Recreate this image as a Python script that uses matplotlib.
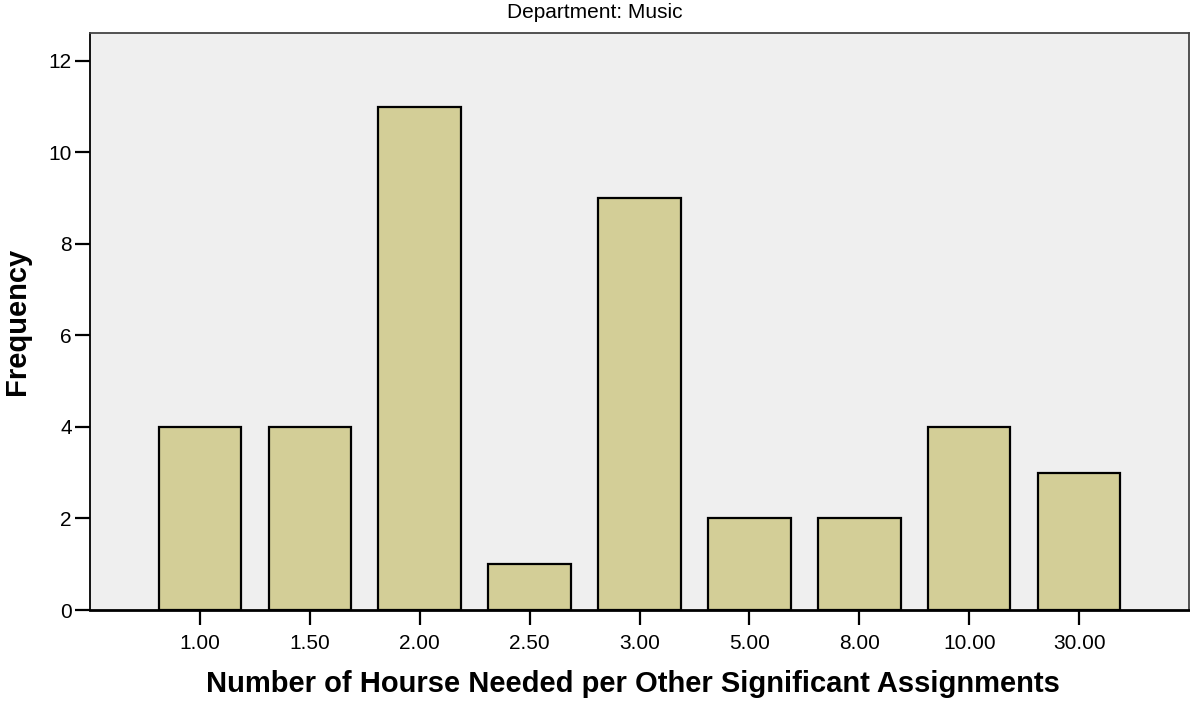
import numpy as np
import matplotlib
matplotlib.use('Agg')
import matplotlib.pyplot as plt

# datos del grafico
categorias = ['1.00', '1.50', '2.00', '2.50', '3.00', '5.00', '8.00', '10.00', '30.00']
frecuencias = [4, 4, 11, 1, 9, 2, 2, 4, 3]
y_ticks = [0, 2, 4, 6, 8, 10, 12]

titulo = 'Department: Music'
x_label = 'Number of Hourse Needed per Other Significant Assignments'
y_label = 'Frequency'

plt.rcParams['font.family'] = ['Liberation Sans', 'DejaVu Sans']

fig = plt.figure(figsize=(11.9, 7.02), dpi=100)
ax = fig.add_axes([90 / 1190, 1 - 610 / 702, 1099 / 1190, 577 / 702])
ax.set_facecolor('#efefef')

x = np.arange(len(categorias))
ax.bar(x, frecuencias, width=0.75, color='#d3ce97', edgecolor='black',
       linewidth=1.6, zorder=3)

ax.set_xlim(-1, len(categorias))
ax.set_ylim(0, 12.61)
ax.set_xticks(x)
ax.set_xticklabels(categorias)
ax.set_yticks(y_ticks)

ax.tick_params(axis='both', labelsize=15, length=11, width=1.6,
               direction='out', color='black')
ax.tick_params(axis='x', pad=6)
ax.tick_params(axis='y', pad=2)

for lado in ['left', 'bottom']:
    ax.spines[lado].set_color('black')
ax.spines['left'].set_linewidth(1.3)
ax.spines['bottom'].set_linewidth(2)
for lado in ['top', 'right']:
    ax.spines[lado].set_color('#444444')
    ax.spines[lado].set_linewidth(1.3)

fig.text(0.5, 1 - 13 / 702, titulo, ha='center', va='center', fontsize=15)
ax.set_xlabel(x_label, fontsize=21, fontweight='bold', va='center')
ax.xaxis.set_label_coords(0.494, -0.128)
ax.set_ylabel(y_label, fontsize=21, fontweight='bold', va='center')
ax.yaxis.set_label_coords(-0.066, 0.5)

fig.savefig('out.png', dpi=100)
